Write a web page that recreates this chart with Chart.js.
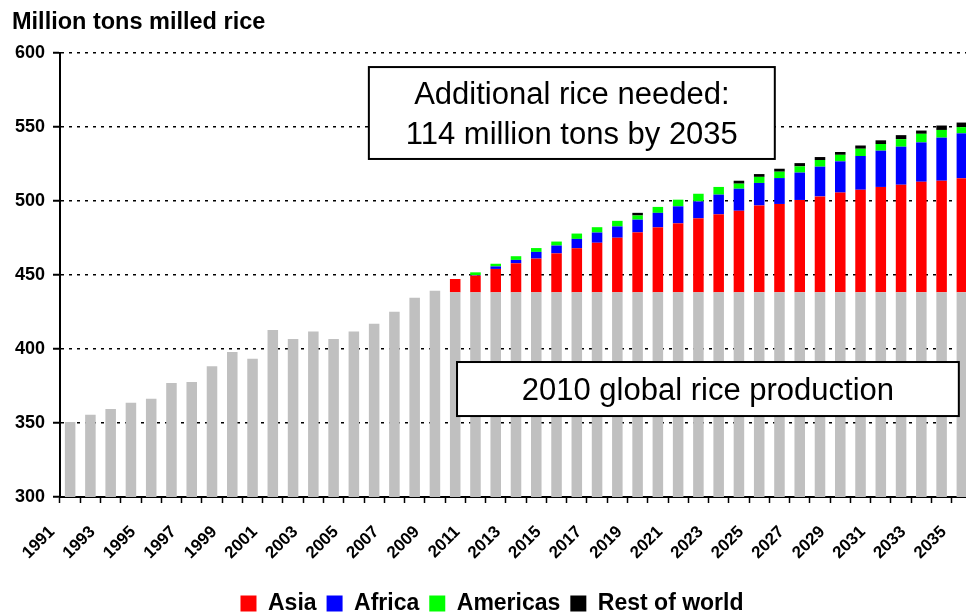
<!DOCTYPE html>
<html>
<head>
<meta charset="utf-8">
<title>Million tons milled rice</title>
<script src="https://cdn.jsdelivr.net/npm/chart.js@4.4.1/dist/chart.umd.min.js"></script>
<style>
  html, body { margin: 0; padding: 0; background: #fff; overflow: hidden; }
</style>
</head>
<body>
<canvas id="riceChart" width="972" height="625"></canvas>
<script>
const years = [1991, 1992, 1993, 1994, 1995, 1996, 1997, 1998, 1999, 2000,
  2001, 2002, 2003, 2004, 2005, 2006, 2007, 2008, 2009, 2010,
  2011, 2012, 2013, 2014, 2015, 2016, 2017, 2018, 2019, 2020,
  2021, 2022, 2023, 2024, 2025, 2026, 2027, 2028, 2029, 2030,
  2031, 2032, 2033, 2034, 2035];
const xTickLabels = ['1991', '1993', '1995', '1997', '1999', '2001', '2003', '2005', '2007', '2009', '2011',
  '2013', '2015', '2017', '2019', '2021', '2023', '2025', '2027', '2029', '2031', '2033', '2035'];
const yTicks = [300, 350, 400, 450, 500, 550, 600];

// global production (grey), 1991-2009 actual, then held at the 2010 level
const production = [350.7, 355.6, 359.5, 363.7, 366.4, 377.0, 377.7, 388.3, 398.0, 393.4,
  412.8, 406.8, 411.9, 406.8, 411.9, 417.1, 425.2, 434.6, 439.3, 438.3,
  438.3, 438.3, 438.3, 438.3, 438.3, 438.3, 438.3, 438.3, 438.3, 438.3,
  438.3, 438.3, 438.3, 438.3, 438.3, 438.3, 438.3, 438.3, 438.3, 438.3,
  438.3, 438.3, 438.3, 438.3, 438.3];

// additional rice needed, 2010-2035
const projYears = [2010, 2011, 2012, 2013, 2014, 2015, 2016, 2017, 2018, 2019, 2020, 2021, 2022,
  2023, 2024, 2025, 2026, 2027, 2028, 2029, 2030, 2031, 2032, 2033, 2034, 2035];
const asia = [9.0, 11.3, 15.8, 19.6, 22.8, 26.3, 29.8, 33.5, 36.9, 40.5, 43.9, 46.6, 50.0,
  52.7, 55.1, 58.7, 59.7, 62.4, 64.8, 67.4, 69.3, 71.2, 72.7, 74.7, 75.4, 77.1];
const africa = [0, 0.3, 1.7, 2.3, 4.5, 5.3, 6.3, 6.9, 7.6, 8.6, 9.8, 11.5, 11.4,
  13.3, 14.9, 15.2, 17.5, 18.5, 20.1, 21.1, 22.8, 24.5, 25.7, 26.6, 29.1, 30.3];
const americas = [0, 1.9, 1.8, 2.5, 2.6, 2.7, 3.6, 3.6, 3.8, 2.8, 4.0, 4.5, 5.2,
  5.2, 3.4, 4.1, 4.3, 4.2, 4.5, 4.4, 4.9, 4.5, 5.1, 5.8, 5.2, 4.2];
const restOfWorld = [0, 0, 0, 0, 0, 0, 0, 0, 0, 1.8, 0, 0, 0,
  0, 2.0, 1.9, 2.0, 2.2, 2.0, 1.9, 2.2, 2.5, 2.7, 2.2, 3.0, 3.1];

const FONT = '"Liberation Sans", Arial, Helvetica, sans-serif';
Chart.defaults.font.family = FONT;
Chart.defaults.color = '#000';

// put a projection series on the full year axis
function onYears(vals) {
  return years.map(y => {
    const i = projYears.indexOf(y);
    return i === -1 ? null : vals[i];
  });
}

// text boxes, placed in axis units (category index, million tons)
const notes = [
  { lines: ['Additional rice needed:', '114 million tons by 2035'], x0: 14.74, x1: 34.77, y0: 528.4, y1: 590.5 },
  { lines: ['2010 global rice production'], x0: 19.09, x1: 43.85, y0: 354.7, y1: 391.2 }
];

const notesPlugin = {
  id: 'notes',
  afterDatasetsDraw(chart) {
    const { ctx, scales: { x, y } } = chart;
    notes.forEach(n => {
      const left = x.getPixelForValue(n.x0), right = x.getPixelForValue(n.x1);
      const top = y.getPixelForValue(n.y1), bottom = y.getPixelForValue(n.y0);
      ctx.save();
      ctx.fillStyle = '#fff';
      ctx.fillRect(left, top, right - left, bottom - top);
      ctx.lineWidth = 2;
      ctx.strokeStyle = '#000';
      ctx.strokeRect(left, top, right - left, bottom - top);
      ctx.font = '31px ' + FONT;
      ctx.fillStyle = '#000';
      ctx.textAlign = 'center';
      ctx.textBaseline = 'alphabetic';
      const cx = (left + right) / 2, cy = (top + bottom) / 2;
      n.lines.forEach((t, i) => {
        ctx.fillText(t, cx, cy + (i - (n.lines.length - 1) / 2) * 40 + 11);
      });
      ctx.restore();
    });
  }
};

const bar = { borderWidth: 0, barPercentage: 0.52, categoryPercentage: 1.0 };

new Chart(document.getElementById('riceChart'), {
  type: 'bar',
  data: {
    labels: years,
    datasets: [
      { label: 'Production', data: production, backgroundColor: '#C0C0C0', ...bar },
      { label: 'Asia', data: onYears(asia), backgroundColor: '#FF0000', ...bar },
      { label: 'Africa', data: onYears(africa), backgroundColor: '#0000FF', ...bar },
      { label: 'Americas', data: onYears(americas), backgroundColor: '#00FF00', ...bar },
      { label: 'Rest of world', data: onYears(restOfWorld), backgroundColor: '#000000', ...bar }
    ]
  },
  options: {
    responsive: false,
    animation: false,
    layout: { padding: { left: 12, right: 0, top: 0, bottom: 0 } },
    plugins: {
      title: {
        display: true,
        text: 'Million tons milled rice',
        align: 'start',
        color: '#000',
        font: { size: 23.5, weight: 'bold' },
        padding: { top: 8, bottom: 16.8 }
      },
      legend: {
        position: 'bottom',
        labels: {
          filter: item => item.text !== 'Production',
          boxWidth: 16,
          boxHeight: 16,
          padding: 10,
          color: '#000',
          font: { size: 23, weight: 'bold' }
        }
      },
      tooltip: { enabled: false }
    },
    scales: {
      x: {
        stacked: true,
        offset: true,
        grid: { display: true, drawOnChartArea: false, drawTicks: true, tickLength: 6, tickWidth: 1.5, tickColor: '#000', offset: true },
        border: { display: true, color: '#000', width: 2 },
        ticks: {
          autoSkip: false,
          maxRotation: 45,
          minRotation: 45,
          padding: 19,
          labelOffset: -18,
          color: '#000',
          font: { size: 17, weight: 'bold' },
          callback: function (v, i) {
            const lab = String(years[i]);
            return xTickLabels.includes(lab) ? lab : '';
          }
        },
        afterFit: s => { s.height = 85; s.paddingRight = 0; }
      },
      y: {
        stacked: true,
        min: yTicks[0],
        max: yTicks[yTicks.length - 1],
        afterBuildTicks: s => { s.ticks = yTicks.map(v => ({ value: v })); },
        ticks: { padding: 8, color: '#000', font: { size: 18, weight: 'bold' } },
        grid: { color: '#000', lineWidth: 1.5, drawTicks: true, tickLength: 7, tickColor: '#000', tickWidth: 2 },
        border: { display: true, color: '#000', width: 2, dash: [3, 5] },
        afterFit: s => { s.width = 48; }
      }
    }
  },
  plugins: [notesPlugin]
});
</script>
</body>
</html>
